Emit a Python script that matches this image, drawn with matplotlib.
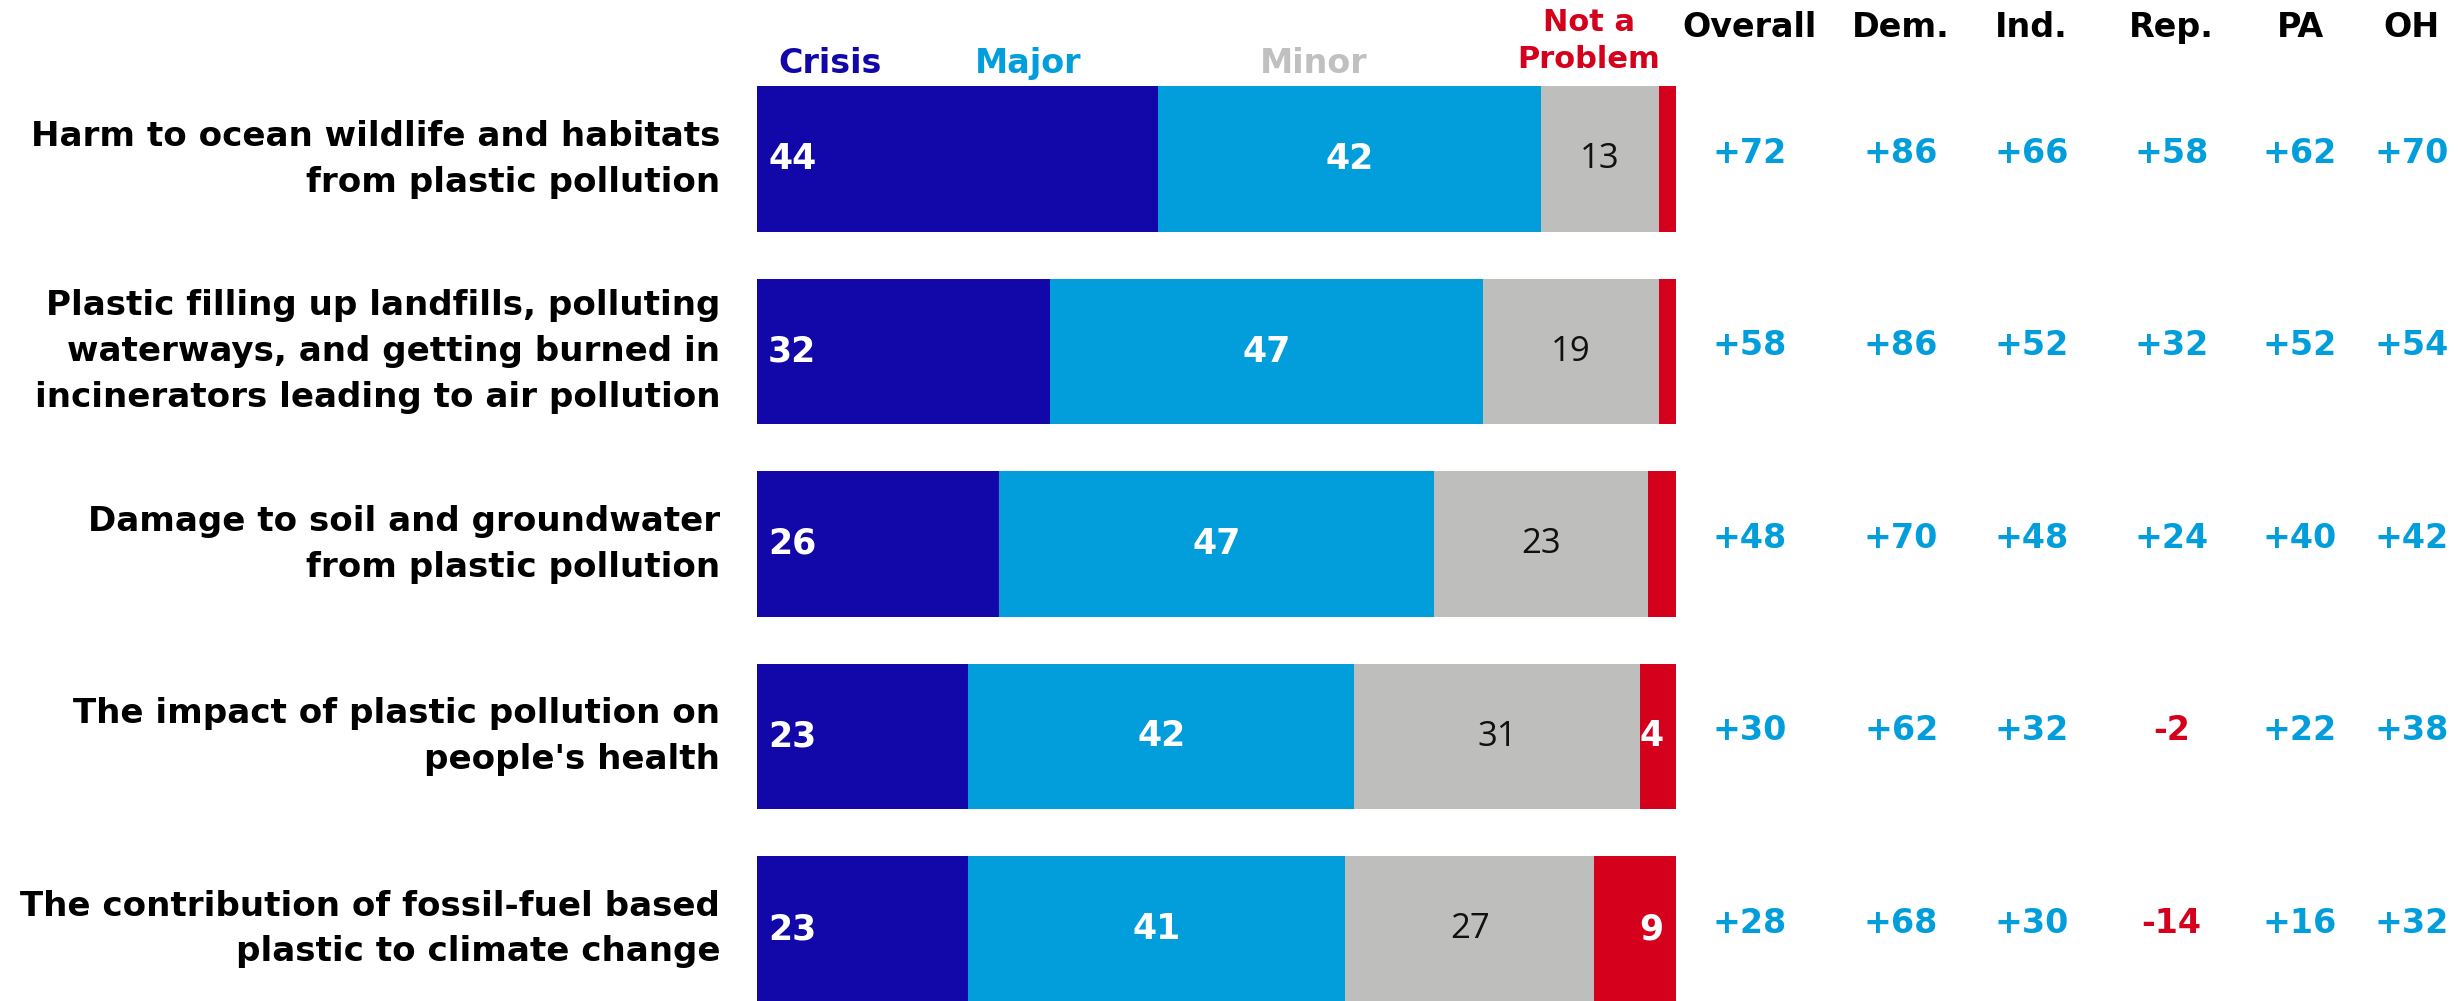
import matplotlib
matplotlib.use("Agg")
import matplotlib.pyplot as plt
import numpy as np

categories = [
    "Harm to ocean wildlife and habitats\nfrom plastic pollution",
    "Plastic filling up landfills, polluting\nwaterways, and getting burned in\nincinerators leading to air pollution",
    "Damage to soil and groundwater\nfrom plastic pollution",
    "The impact of plastic pollution on\npeople's health",
    "The contribution of fossil-fuel based\nplastic to climate change",
]
crisis = [43.6, 31.9, 26.3, 23.0, 23.0]
major = [41.7, 47.1, 47.4, 42.0, 41.0]
minor = [12.8, 19.1, 23.2, 31.1, 27.1]
not_problem = [1.9, 1.9, 3.1, 3.9, 8.9]
crisis_lbl = [44, 32, 26, 23, 23]
major_lbl = [42, 47, 47, 42, 41]
minor_lbl = [13, 19, 23, 31, 27]
notp_lbl = [None, None, None, 4, 9]

col_headers = ["Overall", "Dem.", "Ind.", "Rep.", "PA", "OH"]
col_values = [
    [72, 86, 66, 58, 62, 70],
    [58, 86, 52, 32, 52, 54],
    [48, 70, 48, 24, 40, 42],
    [30, 62, 32, -2, 22, 38],
    [28, 68, 30, -14, 16, 32],
]
seg_names = ["Crisis", "Major", "Minor", "Not a\nProblem"]

C_CRISIS = "#1207A8"
C_MAJOR = "#029EDC"
C_MINOR = "#BEBEBC"
C_NOTP = "#D5001C"
C_MINOR_HDR = "#C0C0C0"

BFONT = "DejaVu Sans"
LFONT = "Open Sans"

W, H = 2458, 1001
fig = plt.figure(figsize=(W / 100, H / 100), dpi=100)
x0, x1 = 757, 1676
ax = fig.add_axes([x0 / W, 0, (x1 - x0) / W, 1])
pitch = 192.5
c0 = 159
ax.set_xlim(0, 100)
ax.set_ylim((H - c0) / pitch, -c0 / pitch)
ax.axis("off")

y = np.arange(len(categories))
bh = 0.758
left = np.zeros(len(categories))
for vals, col in zip([crisis, major, minor, not_problem], [C_CRISIS, C_MAJOR, C_MINOR, C_NOTP]):
    ax.barh(y, vals, left=left, height=bh, color=col, edgecolor="none")
    left = left + np.array(vals)

nsize = 25
for i in range(len(categories)):
    ax.text(1.2, i, str(crisis_lbl[i]), ha="left", va="center", color="white",
            fontsize=nsize, fontweight="bold", family=BFONT)
    ax.text(crisis[i] + major[i] / 2, i, str(major_lbl[i]), ha="center", va="center",
            color="white", fontsize=nsize, fontweight="bold", family=BFONT)
    ax.text(crisis[i] + major[i] + minor[i] / 2, i, str(minor_lbl[i]), ha="center",
            va="center", color="#111111", fontsize=nsize, fontweight="normal", family=LFONT)
    if notp_lbl[i] is not None:
        ax.text(98.6, i, str(notp_lbl[i]), ha="right", va="center", color="white",
                fontsize=nsize, fontweight="bold", family=BFONT)
    ax.text(-4.0, i, categories[i], ha="right", va="center", color="black",
            fontsize=24.6, fontweight="bold", family=BFONT, linespacing=1.5,
            multialignment="right")

# segment headers
hdr_y = (63 - c0) / pitch
hsize = 24
ax.text(7.9, hdr_y, seg_names[0], ha="center", va="center", color=C_CRISIS,
        fontsize=hsize, fontweight="bold", family=BFONT, clip_on=False)
ax.text(29.5, hdr_y, seg_names[1], ha="center", va="center", color=C_MAJOR,
        fontsize=hsize, fontweight="bold", family=BFONT, clip_on=False)
ax.text(60.6, hdr_y, seg_names[2], ha="center", va="center", color=C_MINOR_HDR,
        fontsize=hsize, fontweight="bold", family=BFONT, clip_on=False)
ax.text(90.5, (41 - c0) / pitch, seg_names[3], ha="center", va="center", color=C_NOTP,
        fontsize=22, fontweight="bold", family=BFONT, clip_on=False,
        linespacing=1.35, multialignment="center")

# columns
col_x = [108.0, 124.5, 138.7, 153.9, 167.9, 180.0]
col_hdr_y = (27 - c0) / pitch
for j, (hx, name) in enumerate(zip(col_x, col_headers)):
    ax.text(hx, col_hdr_y, name, ha="center", va="center", color="black",
            fontsize=hsize, fontweight="bold", family=BFONT, clip_on=False)
    for i in range(len(categories)):
        v = col_values[i][j]
        s = f"+{v}" if v > 0 else f"{v}"
        ax.text(hx, i - 0.03, s, ha="center", va="center",
                color=C_MAJOR if v > 0 else C_NOTP, fontsize=hsize,
                fontweight="bold", family=BFONT, clip_on=False)

fig.savefig("out.png", dpi=100)
